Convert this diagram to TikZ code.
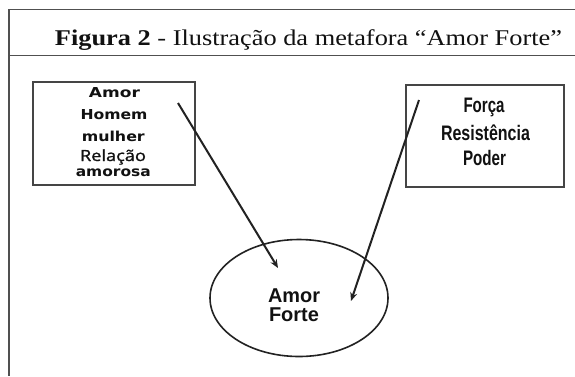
\documentclass[tikz,border=0pt]{standalone}
\usepackage{fontspec}
\setmainfont{Liberation Serif}
\newfontfamily\wideb{DejaVu Sans}
\newfontfamily\humsans[FakeBold=1.2]{Open Sans}
\newfontfamily\arialf{Liberation Sans}
\usetikzlibrary{arrows.meta,shapes.geometric}
\definecolor{framec}{HTML}{505050}
\definecolor{boxc}{HTML}{454545}
\definecolor{arrc}{HTML}{222222}
\definecolor{txtc}{HTML}{111111}
\begin{document}
\begin{tikzpicture}[x=1pt,y=-1pt,
  framel/.style={draw=framec,line width=1.8pt},
  wordbox/.style={draw=boxc,line width=2.2pt,inner sep=0pt},
  arr/.style={draw=arrc,line width=2pt,-{Stealth[length=8.5pt,width=7pt]}},
  txt/.style={text=txtc,inner sep=0pt,align=center},
  lfont/.style={font=\wideb\bfseries\fontsize{13.7}{15}\selectfont},
  rfont/.style={font=\arialf\bfseries\fontsize{21}{24}\selectfont},
  efont/.style={font=\arialf\bfseries\fontsize{20}{22}\selectfont}]
\useasboundingbox[fill=white] (0,0) rectangle (575,376);
% frame
\coordinate (ftl) at (9,9.5);
\coordinate (ftr) at (575,9.5);
\coordinate (fsl) at (9,55.5);
\coordinate (fsr) at (575,55.5);
\coordinate (fbl) at (9,376);
\draw[framel] (ftr) -- (ftl) -- (fbl);
\draw[framel] (fsl) -- (fsr);
% title
\node[txt,anchor=base] (title) at (308.5,45) {\resizebox{507pt}{\height}{\fontsize{22.5}{26}\selectfont\textbf{Figura 2} - Ilustração da metafora “Amor Forte”}};
% left box
\node[wordbox,minimum width=162pt,minimum height=103pt] (lbox) at (114,133.5) {};
\node[txt,lfont,anchor=base] (l1) at (114.5,97) {\resizebox{51pt}{\height}{Amor}};
\node[txt,lfont,anchor=base] (l2) at (114,119) {\resizebox{67pt}{\height}{Homem}};
\node[txt,lfont,anchor=base] (l3) at (113.3,141) {\resizebox{63pt}{\height}{mulher}};
\node[txt,anchor=base,font=\humsans\fontsize{15.4}{18}\selectfont] (l4) at (113,161) {\resizebox{66pt}{\height}{Relação}};
\node[txt,lfont,anchor=base] (l5) at (113.3,176.5) {\resizebox{75pt}{\height}{amorosa}};
% right box
\node[wordbox,minimum width=158pt,minimum height=102pt] (rbox) at (485,136) {};
\node[txt,rfont,anchor=base] (r1) at (484,112) {\resizebox{41pt}{\height}{Força}};
\node[txt,rfont,anchor=base] (r2) at (485.5,140) {\resizebox{89pt}{\height}{Resistência}};
\node[txt,rfont,anchor=base] (r3) at (484.5,165) {\resizebox{43pt}{\height}{Poder}};
% ellipse
\node[ellipse,draw=arrc,line width=1.6pt,minimum width=178pt,minimum height=117pt,inner sep=0pt] (ell) at (299,298) {};
\node[txt,efont,anchor=base] (e1) at (294,302) {\resizebox{52pt}{\height}{Amor}};
\node[txt,efont,anchor=base] (e2) at (294,321) {\resizebox{50pt}{\height}{Forte}};
% arrows
\coordinate (a1s) at (178,103);
\coordinate (a1e) at (278,268);
\coordinate (a2s) at (419,100);
\coordinate (a2e) at (351,301);
\draw[arr] (a1s) -- (a1e);
\draw[arr] (a2s) -- (a2e);
\end{tikzpicture}
\end{document}
